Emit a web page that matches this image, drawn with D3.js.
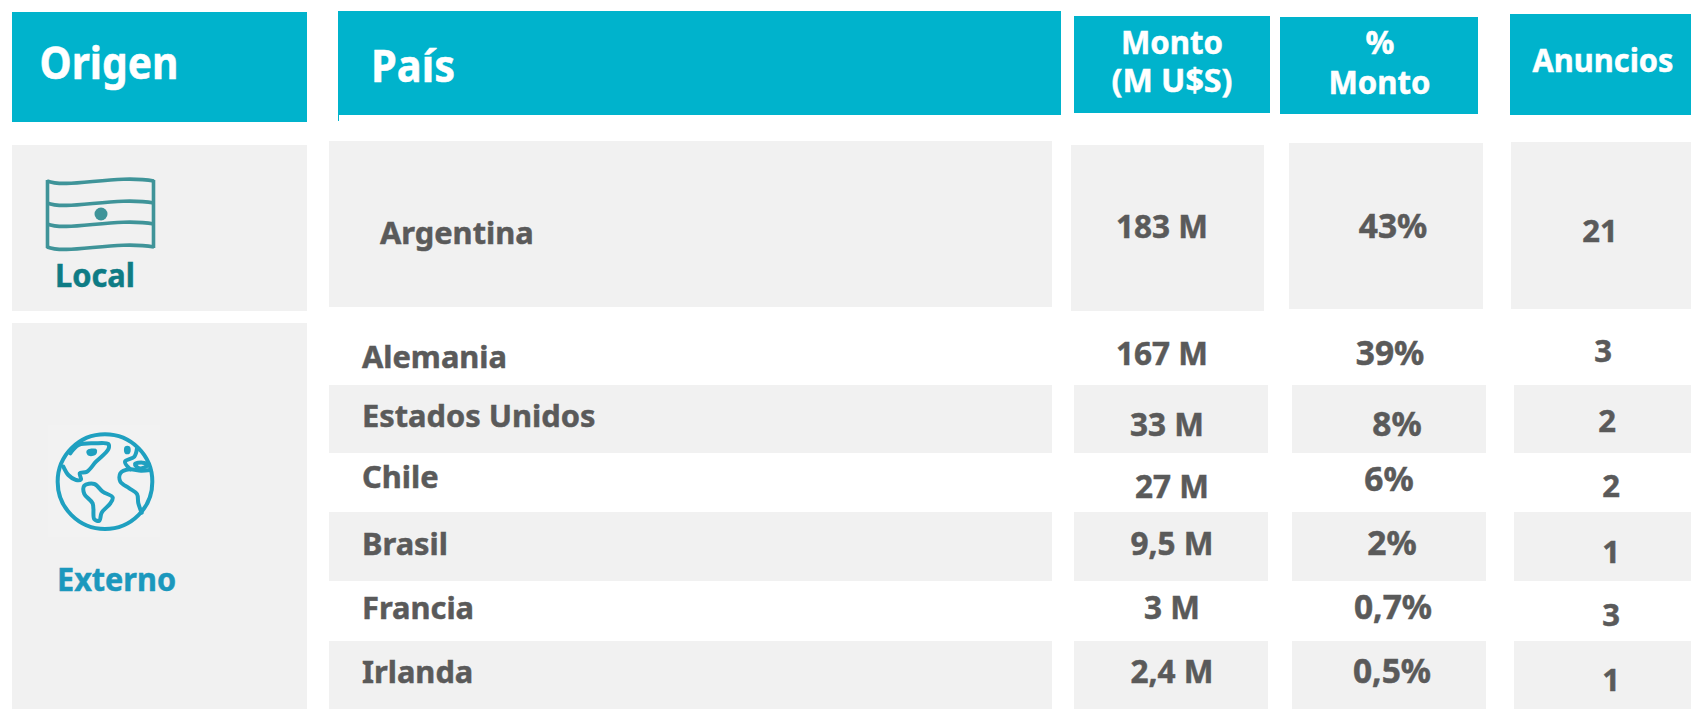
<!DOCTYPE html>
<html lang="es">
<head>
    <meta charset="utf-8">
    <title>Origen de anuncios</title>
    <script src="https://cdn.jsdelivr.net/npm/d3@7" charset="utf-8"></script>
    <style type="text/css">
        html, body { margin: 0; padding: 0; background: #fff; overflow: hidden; }
        svg { display: block; }
        text { font-family: "Noto Sans", sans-serif; font-weight: 700; }
    </style>
</head>
<body>
<script type="text/javascript">
    // datos
    var paises = ['Argentina', 'Alemania', 'Estados Unidos', 'Chile', 'Brasil', 'Francia', 'Irlanda'];
    var montos = ['183 M', '167 M', '33 M', '27 M', '9,5 M', '3 M', '2,4 M'];
    var porcentajes = ['43%', '39%', '8%', '6%', '2%', '0,7%', '0,5%'];
    var anuncios = [21, 3, 2, 2, 1, 3, 1];

    var width = 1691, height = 709;
    var cyan = '#00b3cc', gray = '#f1f1f1', textColor = '#5a5a5a';

    var svg = d3.select('body').append('svg').attr('width', width).attr('height', height);

    // the source is a hand-placed slide, so columns and rows are nudged per row
    var nameX = d3.scaleOrdinal(paises, [380, 362, 362, 362, 362, 362, 362]);
    var nameY = d3.scaleOrdinal(paises, [244, 368, 427, 488, 555, 619, 683]);
    var montoX = d3.scaleOrdinal(paises, [1162, 1162, 1167, 1172, 1172, 1172, 1172]);
    var montoY = d3.scaleOrdinal(paises, [238, 365, 436, 498, 555, 619, 683]);
    var pctX = d3.scaleOrdinal(paises, [1393, 1390, 1397, 1389, 1392, 1393, 1392]);
    var pctY = d3.scaleOrdinal(paises, [238, 365, 436, 491, 555, 619, 683]);
    var anunX = d3.scaleOrdinal(paises, [1600, 1603, 1607, 1611, 1611, 1611, 1611]);
    var anunY = d3.scaleOrdinal(paises, [242, 362, 432, 497, 563, 626, 691]);

    function box(x0, y0, x1, y1, fill) {
        svg.append('rect').attr('x', x0).attr('y', y0).attr('width', x1 - x0).attr('height', y1 - y0).attr('fill', fill);
    }

    // fit: squeeze text to the width measured on the reference
    function label(str, x, y, size, color, anchor, fit) {
        var t = svg.append('text').attr('x', x).attr('y', y)
            .attr('font-size', size).attr('fill', color)
            .attr('stroke', color).attr('stroke-width', 0.5)
            .attr('text-anchor', anchor || 'start').text(str);
        if (fit) t.attr('textLength', fit).attr('lengthAdjust', 'spacingAndGlyphs');
        return t;
    }

    // cabecera
    box(12, 12, 307, 122, cyan);
    box(339, 11, 1061, 115, cyan);
    box(1074, 16, 1270, 113, cyan);
    box(1280, 17, 1478, 114, cyan);
    box(1510, 14, 1691, 115, cyan);
    svg.append('line').attr('x1', 338.5).attr('x2', 338.5).attr('y1', 11).attr('y2', 121).attr('stroke', cyan);

    label('Origen', 39.5, 79, 44, '#fff', 'start', 139);
    label('País', 371, 82, 44, '#fff', 'start', 84);
    label('Monto', 1172, 54, 32, '#fff', 'middle', 102);
    label('(M U$S)', 1172, 92, 32, '#fff', 'middle', 121);
    label('%', 1380, 54, 32, '#fff', 'middle');
    label('Monto', 1379.5, 94, 32, '#fff', 'middle', 102);
    label('Anuncios', 1603, 72, 32, '#fff', 'middle', 141);

    // fondos
    box(12, 145, 307, 311, gray);
    box(12, 323, 307, 709, gray);
    box(329, 141, 1052, 307, gray);
    box(1071, 145, 1264, 311, gray);
    box(1289, 143, 1483, 309, gray);
    box(1511, 142, 1691, 309, gray);

    var stripeTop = [385, 512, 641], stripeBottom = [453, 581, 709];
    stripeTop.forEach(function (y0, i) {
        box(329, y0, 1052, stripeBottom[i], gray);
        box(1074, y0, 1268, stripeBottom[i], gray);
        box(1292, y0, 1486, stripeBottom[i], gray);
        box(1514, y0, 1691, stripeBottom[i], gray);
    });

    // filas
    var rows = svg.selectAll('g.row').data(paises).enter().append('g').attr('class', 'row');
    function column(values, x, y, anchor, size) {
        rows.append('text')
            .attr('x', function (d) { return x(d); })
            .attr('y', function (d) { return y(d); })
            .attr('font-size', size)
            .attr('fill', textColor)
            .attr('stroke', textColor)
            .attr('stroke-width', 0.5)
            .attr('text-anchor', anchor)
            .text(function (d, i) { return values[i]; });
    }
    column(paises, nameX, nameY, 'start', 30.8);
    column(montos, montoX, montoY, 'middle', 31.5);
    column(porcentajes, pctX, pctY, 'middle', 33.5);
    column(anuncios, anunX, anunY, 'middle', 31);

    // origen
    label('Local', 55, 287, 32, '#0e7c85', 'start', 80);
    label('Externo', 57, 591, 32, '#1b98bd', 'start', 119);

    // bandera
    var flag = svg.append('g').attr('fill', 'none').attr('stroke', '#3f9499').attr('stroke-width', 3.6);
    [181, 203, 224, 247].forEach(function (y) {
        flag.append('path').attr('d', 'M47,' + y + 'C68,' + (y + 8) + ' 115,' + (y - 7) + ' 154,' + y);
    });
    flag.append('line').attr('x1', 47.5).attr('x2', 47.5).attr('y1', 180).attr('y2', 248);
    flag.append('line').attr('x1', 153.5).attr('x2', 153.5).attr('y1', 180).attr('y2', 248);
    svg.append('circle').attr('cx', 101).attr('cy', 214).attr('r', 6.5).attr('fill', '#3f9499');

    // globo
    box(48, 425, 160, 537, '#f2f2f2');
    var northAmerica = [[97, 140], [112, 165], [135, 180], [150, 178], [146, 160], [168, 155], [195, 125], [232, 88], [232, 72], [190, 70], [143, 75], [118, 100]];
    var southAmerica = [[160, 197], [190, 192], [215, 215], [245, 232], [238, 250], [212, 278], [205, 302], [190, 298], [185, 250], [160, 222]];
    var africa = [[358, 150], [330, 152], [295, 148], [268, 160], [268, 185], [295, 205], [318, 222], [322, 250], [332, 278]];
    var europe = [[318, 85], [310, 110], [282, 125], [298, 148]];
    var med = [[312, 132], [335, 128], [352, 135], [325, 145]];
    var spot = [[172, 95], [192, 92], [190, 100], [176, 102]];
    var island = [[286, 84], [292, 84], [292, 96], [286, 96]];

    var globe = svg.append('g')
        .attr('transform', 'translate(31,420) scale(0.3333)')
        .attr('fill', 'none').attr('stroke', '#1fa0c0').attr('stroke-width', 12)
        .attr('stroke-linejoin', 'round').attr('stroke-linecap', 'round');
    globe.append('circle').attr('cx', 222).attr('cy', 185).attr('r', 142);
    var openLine = d3.line().curve(d3.curveCatmullRom);
    var closedLine = d3.line().curve(d3.curveCatmullRomClosed);
    globe.append('path').attr('d', openLine(northAmerica));
    globe.append('path').attr('d', closedLine(southAmerica));
    globe.append('path').attr('d', openLine(africa));
    globe.append('path').attr('d', openLine(europe));
    globe.append('path').attr('d', closedLine(med));
    globe.append('path').attr('d', closedLine(spot)).attr('fill', '#1fa0c0');
    globe.append('path').attr('d', closedLine(island)).attr('fill', '#1fa0c0');
</script>
</body>
</html>
